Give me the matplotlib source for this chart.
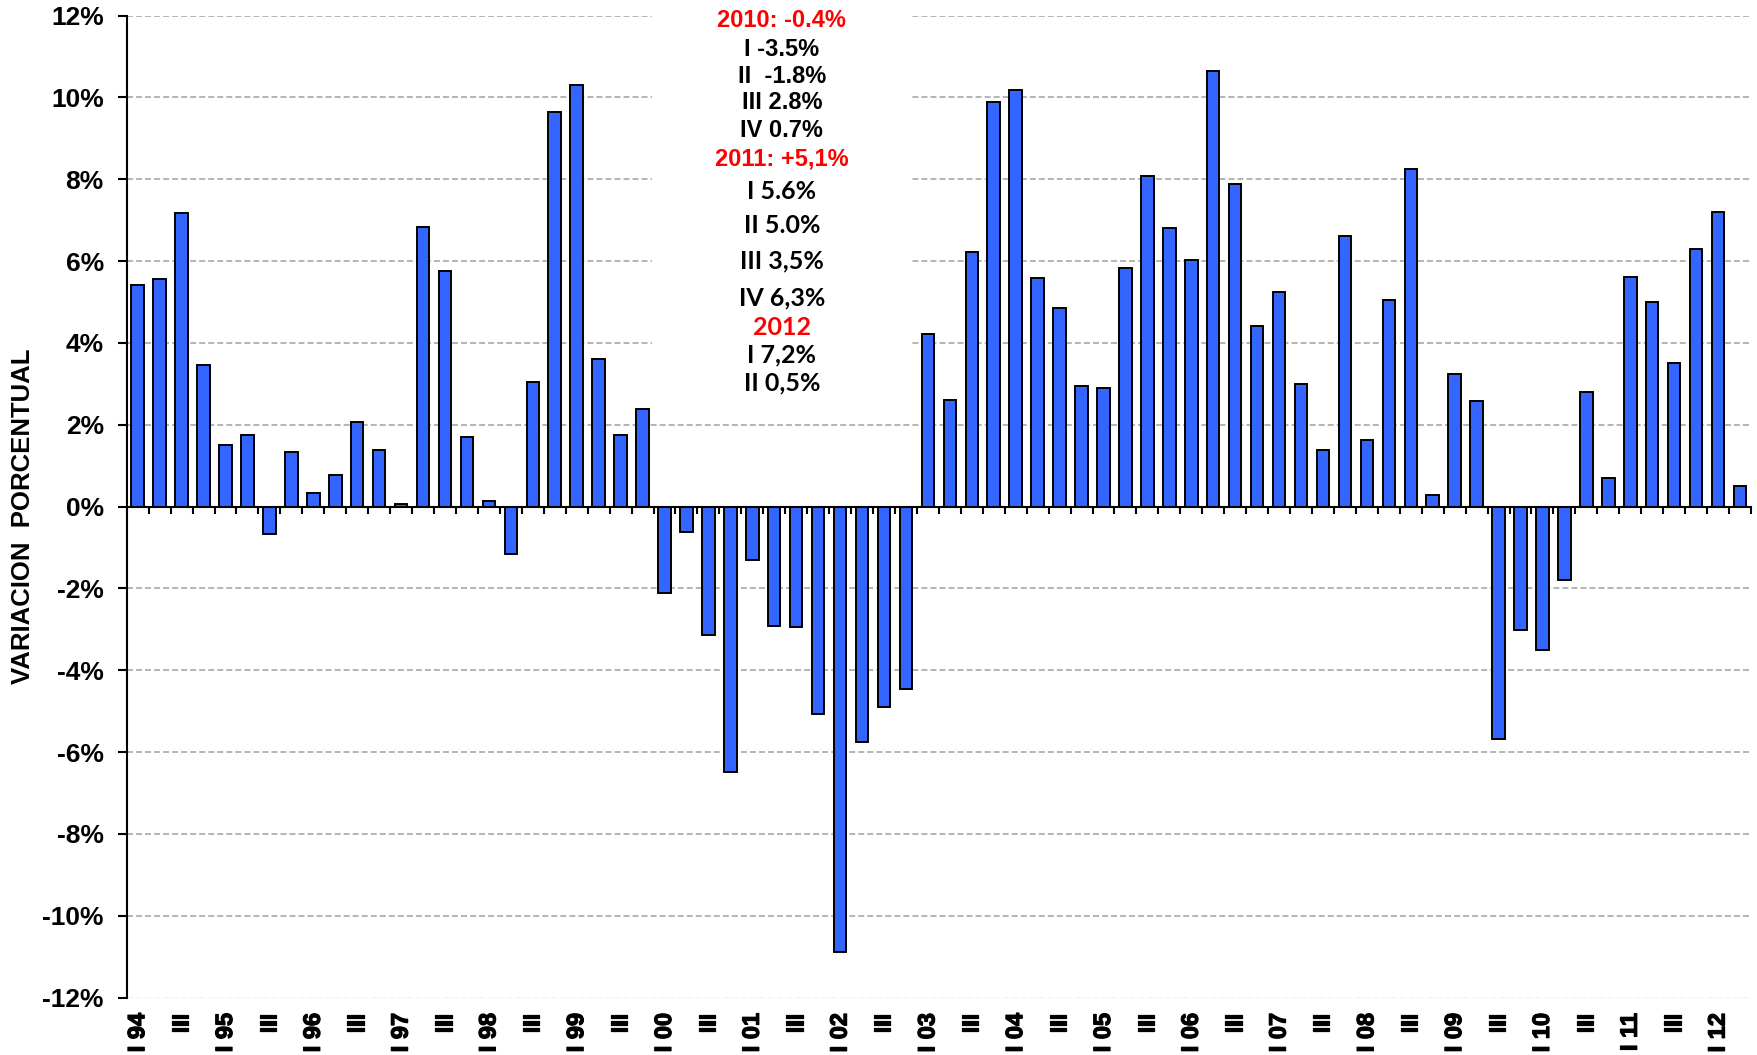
import numpy as np
import matplotlib
matplotlib.use("Agg")
import matplotlib.pyplot as plt
import matplotlib.patheffects as pe
from matplotlib.patches import Rectangle

plt.rcParams['font.family'] = ['Liberation Sans', 'DejaVu Sans']
plt.rcParams['font.weight'] = 'bold'
plt.rcParams['lines.scale_dashes'] = False

# ---------------- data ----------------
years = ['94', '95', '96', '97', '98', '99', '00', '01', '02', '03', '04',
         '05', '06', '07', '08', '09', '10', '11', '12']
quarter_names = ['I', 'II', 'III', 'IV']
quarters = [f"{q} {y}" if q == 'I' else q for y in years for q in quarter_names][:74]

values = [
    5.42, 5.57, 7.18, 3.47,      # 1994
    1.51, 1.75, -0.67, 1.32,     # 1995
    0.34, 0.78, 2.06, 1.37,      # 1996
    0.05, 6.84, 5.76, 1.70,      # 1997
    0.14, -1.16, 3.04, 9.63,     # 1998
    10.31, 3.61, 1.75, 2.39,     # 1999
    -2.12, -0.62, -3.14, -6.49,  # 2000
    -1.31, -2.91, -2.95, -5.08,  # 2001
    -10.90, -5.76, -4.89, -4.45, # 2002
    4.21, 2.60, 6.21, 9.88,      # 2003
    10.17, 5.58, 4.85, 2.94,     # 2004
    2.89, 5.83, 8.07, 6.80,      # 2005
    6.02, 10.65, 7.87, 4.41,     # 2006
    5.24, 3.00, 1.38, 6.60,      # 2007
    1.62, 5.04, 8.26, 0.29,      # 2008
    3.23, 2.59, -5.67, -3.03,    # 2009
    -3.50, -1.80, 2.80, 0.70,    # 2010
    5.60, 5.00, 3.50, 6.30,      # 2011
    7.20, 0.50,                  # 2012
]

yticks = list(range(-12, 13, 2))
ytick_labels = [f"{v}%" for v in yticks]

note_lines = ["2010: -0.4%", "I -3.5%", "II  -1.8%", "III 2.8%", "IV 0.7%",
              "2011: +5,1%", "I 5.6%", "II 5.0%", "III 3,5%", "IV 6,3%",
              "2012", "I 7,2%", "II 0,5%"]
note_colors = ['red', 'black', 'black', 'black', 'black',
               'red', 'black', 'black', 'black', 'black',
               'red', 'black', 'black']
note_fonts = ['arial'] * 6 + ['calibri'] * 7
note_y = [11.89, 11.18, 10.52, 9.87, 9.18, 8.50, 7.70, 6.87, 5.99, 5.11,
          4.38, 3.70, 3.01]

# ---------------- figure ----------------
fig = plt.figure(figsize=(17.58, 10.55), dpi=100)
ax = fig.add_axes([0.0721, 0.0545, 0.9239, 0.9308])

x = np.arange(len(values))
ax.bar(x, values, width=0.57, color='#3366FF', edgecolor='black',
       linewidth=1.4, zorder=2)

ax.set_xlim(-0.5, len(values) - 0.5)
ax.set_ylim(-12, 12)

# y axis
ax.set_yticks(yticks)
ax.set_yticklabels(ytick_labels, fontsize=19, fontweight='bold')
ax.tick_params(axis='y', direction='out', length=6.5, width=1.5, pad=10)
ax.set_axisbelow(True)
ax.yaxis.grid(True, color='#A0A0A0', linestyle=(0, (4.3, 2.2)), linewidth=1.1)
for val, gl in zip(yticks, ax.get_ygridlines()):
    if val == -12:
        gl.set_color('#EDEDED')
    if val == 0:
        gl.set_visible(False)

ax.set_ylabel("VARIACION  PORCENTUAL", fontsize=18.5, fontweight='bold')
ax.yaxis.set_label_coords(-0.0565, 0.49)

# spines
for s in ['top', 'right']:
    ax.spines[s].set_visible(False)
ax.spines['left'].set_linewidth(1.5)
ax.spines['bottom'].set_position(('data', 0))
ax.spines['bottom'].set_linewidth(1.5)
ax.spines['bottom'].set_zorder(3)

# category boundary ticks on the zero line
ax.set_xticks([])
ax.set_xticks(np.arange(-0.5, len(values), 1.0), minor=True)
ax.tick_params(axis='x', which='minor', direction='out', length=5, width=1.5,
               labelbottom=False)

# tick labels at the bottom of the plot
sec = ax.secondary_xaxis('bottom')
sec.spines['bottom'].set_visible(False)
pos = x[::2]
sec.set_xticks(pos)
sec.set_xticklabels([quarters[i] for i in pos], rotation=90, fontsize=17,
                    fontweight='bold')
sec.tick_params(axis='x', length=0, pad=11)
for lab in sec.get_xticklabels():
    lab.set_path_effects([pe.withStroke(linewidth=0.9, foreground='black')])

# annotation block with white background
ax.add_patch(Rectangle((23.45, 2.55), 35.2 - 23.45, 12.3 - 2.55,
                       facecolor='white', edgecolor='none', zorder=1,
                       clip_on=False))
for txt, col, fnt, yy in zip(note_lines, note_colors, note_fonts, note_y):
    if fnt == 'arial':
        ax.text(29.35, yy, txt, color=col, fontsize=17, fontweight='bold',
                ha='center', va='center', zorder=4,
                family=['Liberation Sans', 'DejaVu Sans'])
    else:
        ax.text(29.35, yy, txt, color=col, fontsize=18, fontweight='bold',
                ha='center', va='center', zorder=4,
                family=['Lato', 'Liberation Sans', 'DejaVu Sans'])

fig.savefig('out.png', dpi=100)
